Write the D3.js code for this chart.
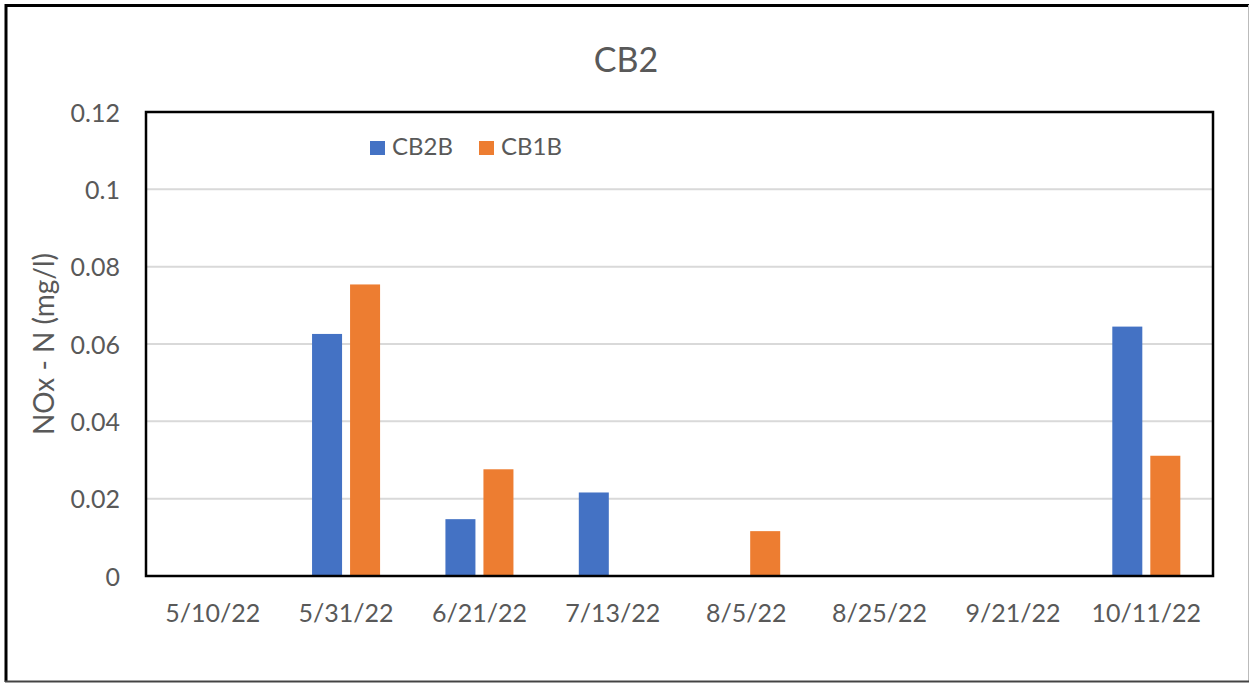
<!DOCTYPE html>
<html>
<head>
<meta charset="utf-8">
<script src="https://cdn.jsdelivr.net/npm/d3@7"></script>
<style>
  body { margin: 0; background: #fff; }
  text { font-family: Lato, "Open Sans", sans-serif; fill: #595959; }
</style>
</head>
<body>
<svg id="chart"></svg>
<script>
var dates = ["5/10/22", "5/31/22", "6/21/22", "7/13/22", "8/5/22", "8/25/22", "9/21/22", "10/11/22"];
var seriesNames = ["CB2B", "CB1B"];
var cb2b = [null, 0.0626, 0.0147, 0.0216, null, null, null, 0.0645];
var cb1b = [null, 0.0754, 0.0276, null, 0.0116, null, null, 0.0311];
var yTicks = [0, 0.02, 0.04, 0.06, 0.08, 0.1, 0.12];
var colors = ["#4472c4", "#ed7d31"];

var W = 1250, H = 683;
// plot area (window.top is read-only, so avoid that name)
var plotLeft = 146, plotRight = 1213, plotTop = 112, plotBottom = 576;

var svg = d3.select("#chart")
    .attr("width", W)
    .attr("height", H);

// outer frame
svg.append("line").attr("x1", 6).attr("x2", 6).attr("y1", 4).attr("y2", 682)
    .attr("stroke", "#000").attr("stroke-width", 3);
svg.append("line").attr("x1", 5).attr("x2", 1249).attr("y1", 5.5).attr("y2", 5.5)
    .attr("stroke", "#000").attr("stroke-width", 3);
svg.append("line").attr("x1", 1248.5).attr("x2", 1248.5).attr("y1", 5).attr("y2", 682)
    .attr("stroke", "#bbb").attr("stroke-width", 1);
svg.append("line").attr("x1", 5).attr("x2", 1249).attr("y1", 681.5).attr("y2", 681.5)
    .attr("stroke", "#444").attr("stroke-width", 2);

var x = d3.scaleBand()
    .domain(dates)
    .range([plotLeft, plotRight])
    .paddingInner(0.49)
    .paddingOuter(0.245);

var x1 = d3.scaleBand()
    .domain(seriesNames)
    .range([0, x.bandwidth()])
    .paddingInner(8 / 38);

var y = d3.scaleLinear()
    .domain([0, 0.12])
    .range([plotBottom, plotTop]);

// gridlines
svg.append("g")
    .selectAll("line")
    .data(yTicks)
    .join("line")
    .attr("x1", plotLeft).attr("x2", plotRight)
    .attr("y1", function(d) { return y(d); })
    .attr("y2", function(d) { return y(d); })
    .attr("stroke", "#d9d9d9")
    .attr("stroke-width", 2);

// bars
var allSeries = [cb2b, cb1b];
allSeries.forEach(function(vals, i) {
    var pts = dates.map(function(d, j) { return {date: d, v: vals[j]}; })
        .filter(function(p) { return p.v != null; });
    svg.append("g")
        .selectAll("rect")
        .data(pts)
        .join("rect")
        .attr("x", function(p) { return x(p.date) + x1(seriesNames[i]); })
        .attr("width", x1.bandwidth())
        .attr("y", function(p) { return y(p.v); })
        .attr("height", function(p) { return y(0) - y(p.v); })
        .attr("fill", colors[i]);
});

// plot frame
svg.append("rect")
    .attr("x", plotLeft).attr("y", plotTop)
    .attr("width", plotRight - plotLeft).attr("height", plotBottom - plotTop)
    .attr("fill", "none")
    .attr("stroke", "#000")
    .attr("stroke-width", 2.5);

// y axis
var yAxis = svg.append("g")
    .attr("transform", "translate(" + plotLeft + ",0)")
    .call(d3.axisLeft(y)
        .tickValues(yTicks)
        .tickSize(0)
        .tickPadding(26)
        .tickFormat(function(d) { return String(+d.toFixed(2)); }));
yAxis.select(".domain").remove();
yAxis.selectAll("text")
    .style("font-family", "Lato, sans-serif")
    .style("font-size", "25px")
    .attr("fill", "#595959")
    .attr("dy", "0.36em");

// x axis
var xAxis = svg.append("g")
    .attr("transform", "translate(0," + plotBottom + ")")
    .call(d3.axisBottom(x).tickSize(0));
xAxis.select(".domain").remove();
xAxis.selectAll("text")
    .style("font-family", "Lato, sans-serif")
    .style("font-size", "25px")
    .attr("fill", "#595959")
    .attr("y", 46)
    .attr("dy", 0);

// title
svg.append("text")
    .attr("x", 626)
    .attr("y", 72)
    .attr("text-anchor", "middle")
    .style("font-size", "34px")
    .text("CB2");

// y axis label
svg.append("text")
    .attr("transform", "translate(54," + ((plotTop + plotBottom) / 2) + ") rotate(-90)")
    .attr("text-anchor", "middle")
    .style("font-size", "28px")
    .text("NOx - N (mg/l)");

// legend
var legendX = [370, 479];
seriesNames.forEach(function(name, i) {
    svg.append("rect")
        .attr("x", legendX[i]).attr("y", 141)
        .attr("width", 15).attr("height", 14)
        .attr("fill", colors[i]);
    svg.append("text")
        .attr("x", legendX[i] + 22)
        .attr("y", 155)
        .style("font-size", "24px")
        .text(name);
});
</script>
</body>
</html>
